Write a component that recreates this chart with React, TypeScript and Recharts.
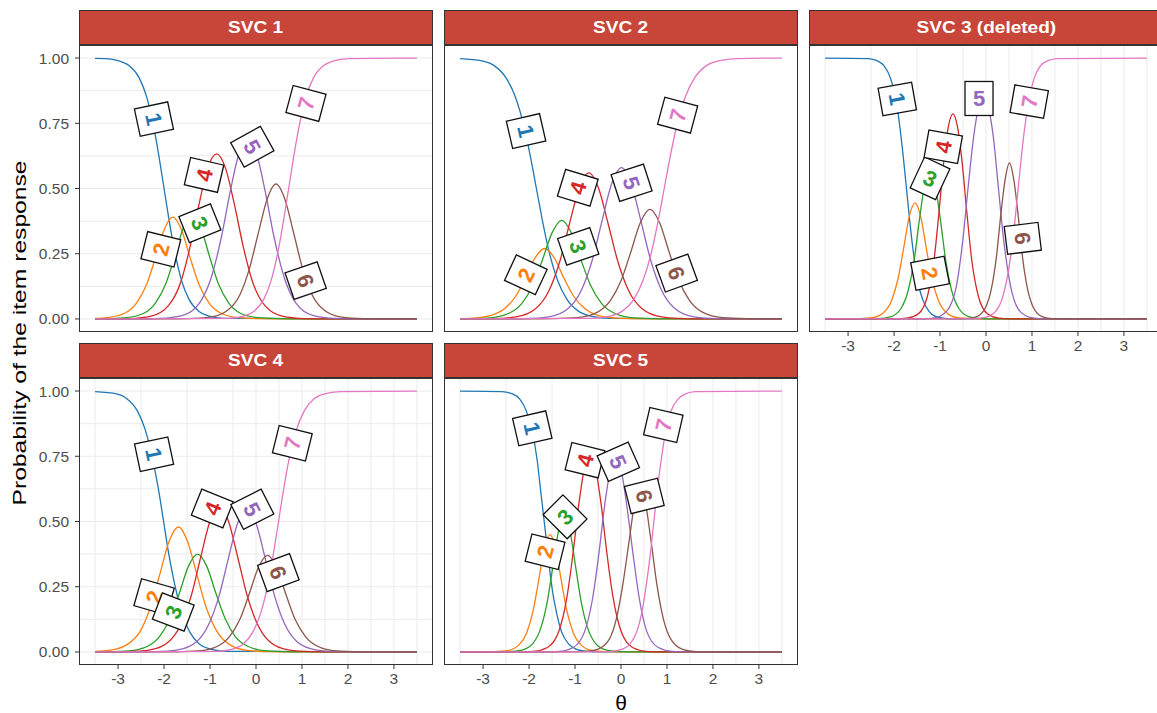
import React from "react";
import { LineChart, Line, XAxis, YAxis, CartesianGrid, ReferenceDot } from "recharts";

type Pt = [number, number];
type Lab = [number, number, number];

const categories = ["1", "2", "3", "4", "5", "6", "7"];
const panelTitles = ["SVC 1", "SVC 2", "SVC 3 (deleted)", "SVC 4", "SVC 5"];
const xTicks = [-3, -2, -1, 0, 1, 2, 3];
const yTicks = [0, 0.25, 0.5, 0.75, 1];
const xGrid = [-3.5, -3, -2.5, -2, -1.5, -1, -0.5, 0, 0.5, 1, 1.5, 2, 2.5, 3, 3.5];
const yGrid = [0, 0.125, 0.25, 0.375, 0.5, 0.625, 0.75, 0.875, 1];

const svc1: Pt[][] = [
  [[-3.5, 0.999], [-3.3, 0.998], [-2.98, 0.989], [-2.76, 0.971], [-2.54, 0.924], [-2.38, 0.852], [-2.22, 0.731], [-2.11, 0.622], [-2.0, 0.5], [-1.89, 0.378], [-1.78, 0.269], [-1.62, 0.148], [-1.46, 0.076], [-1.24, 0.029], [-1.02, 0.011], [-0.7, 0.0025], [3.5, 0]],
  [[-3.5, 0.002], [-3.24, 0.005], [-2.86, 0.022], [-2.6, 0.061], [-2.38, 0.132], [-2.19, 0.233], [-2.0, 0.341], [-1.81, 0.39], [-1.62, 0.341], [-1.43, 0.233], [-1.24, 0.132], [-1.02, 0.061], [-0.76, 0.022], [-0.38, 0.005], [0.1, 0.001], [0.57, 0], [3.5, 0]],
  [[-3.5, 0], [-3.3, 0.001], [-2.82, 0.005], [-2.44, 0.022], [-2.18, 0.063], [-1.96, 0.136], [-1.77, 0.239], [-1.58, 0.35], [-1.39, 0.4], [-1.2, 0.35], [-1.01, 0.239], [-0.82, 0.136], [-0.6, 0.063], [-0.34, 0.022], [0.04, 0.005], [0.52, 0.001], [0.99, 0], [3.5, 0]],
  [[-3.5, 0], [-3.24, 0], [-2.76, 0.0015], [-2.28, 0.011], [-1.9, 0.052], [-1.64, 0.14], [-1.43, 0.279], [-1.24, 0.439], [-1.05, 0.579], [-0.855, 0.633], [-0.665, 0.579], [-0.47, 0.439], [-0.28, 0.279], [-0.07, 0.14], [0.19, 0.052], [0.57, 0.011], [1.05, 0.0015], [1.53, 0], [3.5, 0]],
  [[-3.5, 0], [-2.56, 0], [-2.09, 0.002], [-1.61, 0.013], [-1.23, 0.061], [-0.97, 0.161], [-0.75, 0.316], [-0.56, 0.489], [-0.37, 0.634], [-0.18, 0.69], [0.01, 0.634], [0.2, 0.489], [0.39, 0.316], [0.61, 0.161], [0.87, 0.061], [1.25, 0.013], [1.73, 0.002], [2.2, 0], [3.5, 0]],
  [[-3.5, 0], [-1.95, 0], [-1.47, 0.001], [-0.99, 0.007], [-0.61, 0.034], [-0.35, 0.093], [-0.14, 0.195], [0.05, 0.329], [0.245, 0.461], [0.435, 0.518], [0.625, 0.461], [0.82, 0.329], [1.01, 0.195], [1.22, 0.093], [1.48, 0.034], [1.86, 0.007], [2.34, 0.001], [2.82, 0], [3.5, 0]],
  [[-3.5, 0], [-0.59, 0.0025], [-0.27, 0.011], [-0.05, 0.029], [0.17, 0.076], [0.33, 0.148], [0.49, 0.269], [0.6, 0.378], [0.71, 0.5], [0.82, 0.622], [0.93, 0.731], [1.09, 0.852], [1.25, 0.924], [1.47, 0.971], [1.69, 0.989], [2.01, 0.998], [3.5, 1]],
];

const svc2: Pt[][] = [
  [[-3.5, 0.998], [-3.02, 0.989], [-2.76, 0.971], [-2.5, 0.924], [-2.3, 0.852], [-2.1, 0.731], [-1.97, 0.622], [-1.84, 0.5], [-1.71, 0.378], [-1.58, 0.269], [-1.38, 0.148], [-1.18, 0.076], [-0.92, 0.029], [-0.66, 0.011], [-0.26, 0.0025], [3.5, 0]],
  [[-3.5, 0.001], [-3.24, 0.003], [-2.82, 0.014], [-2.53, 0.04], [-2.29, 0.087], [-2.08, 0.156], [-1.87, 0.234], [-1.66, 0.27], [-1.45, 0.234], [-1.24, 0.156], [-1.03, 0.087], [-0.79, 0.04], [-0.5, 0.014], [-0.08, 0.003], [0.45, 0], [3.5, 0]],
  [[-3.5, 0], [-3.4, 0.0005], [-2.87, 0.004], [-2.45, 0.021], [-2.16, 0.059], [-1.92, 0.128], [-1.71, 0.226], [-1.5, 0.33], [-1.29, 0.378], [-1.08, 0.33], [-0.87, 0.226], [-0.66, 0.128], [-0.42, 0.059], [-0.13, 0.021], [0.29, 0.004], [0.82, 0.0005], [1.34, 0], [3.5, 0]],
  [[-3.5, 0], [-3.33, 0], [-2.81, 0.001], [-2.28, 0.008], [-1.86, 0.039], [-1.57, 0.107], [-1.33, 0.221], [-1.12, 0.365], [-0.91, 0.502], [-0.7, 0.56], [-0.49, 0.502], [-0.28, 0.365], [-0.07, 0.221], [0.17, 0.107], [0.46, 0.039], [0.88, 0.008], [1.41, 0.001], [1.93, 0], [3.5, 0]],
  [[-3.5, 0], [-2.62, 0], [-2.1, 0.001], [-1.57, 0.008], [-1.15, 0.04], [-0.86, 0.111], [-0.62, 0.229], [-0.41, 0.378], [-0.2, 0.52], [0.01, 0.58], [0.22, 0.52], [0.43, 0.378], [0.64, 0.229], [0.88, 0.111], [1.17, 0.04], [1.59, 0.008], [2.12, 0.001], [2.64, 0], [3.5, 0]],
  [[-3.5, 0], [-2.0, 0], [-1.48, 0.001], [-0.95, 0.005], [-0.53, 0.024], [-0.24, 0.068], [0.0, 0.146], [0.21, 0.255], [0.42, 0.369], [0.63, 0.42], [0.84, 0.369], [1.05, 0.255], [1.26, 0.146], [1.5, 0.068], [1.79, 0.024], [2.21, 0.005], [2.74, 0.001], [3.26, 0], [3.5, 0]],
  [[-3.5, 0], [-0.64, 0.0025], [-0.24, 0.011], [0.02, 0.029], [0.28, 0.076], [0.48, 0.148], [0.68, 0.269], [0.81, 0.378], [0.94, 0.5], [1.07, 0.622], [1.2, 0.731], [1.4, 0.852], [1.6, 0.924], [1.86, 0.971], [2.12, 0.989], [2.52, 0.998], [3.5, 1]],
];

const svc3: Pt[][] = [
  [[-3.5, 1], [-2.56, 0.998], [-2.36, 0.989], [-2.22, 0.971], [-2.08, 0.924], [-1.97, 0.852], [-1.87, 0.731], [-1.8, 0.622], [-1.73, 0.5], [-1.66, 0.378], [-1.59, 0.269], [-1.49, 0.148], [-1.38, 0.076], [-1.24, 0.029], [-1.11, 0.011], [-0.9, 0.0025], [-0.62, 0], [3.5, 0]],
  [[-3.5, 0], [-3.08, 0], [-2.78, 0.001], [-2.47, 0.005], [-2.22, 0.026], [-2.05, 0.073], [-1.91, 0.157], [-1.79, 0.272], [-1.67, 0.392], [-1.545, 0.445], [-1.42, 0.392], [-1.3, 0.272], [-1.18, 0.157], [-1.04, 0.073], [-0.87, 0.026], [-0.62, 0.005], [-0.31, 0.001], [-0.01, 0], [3.5, 0]],
  [[-3.5, 0], [-2.65, 0], [-2.36, 0.001], [-2.08, 0.008], [-1.85, 0.04], [-1.69, 0.111], [-1.56, 0.229], [-1.45, 0.378], [-1.33, 0.52], [-1.22, 0.58], [-1.11, 0.52], [-0.99, 0.378], [-0.88, 0.229], [-0.75, 0.111], [-0.59, 0.04], [-0.36, 0.008], [-0.08, 0.001], [0.21, 0], [3.5, 0]],
  [[-3.5, 0], [-1.97, 0], [-1.72, 0.003], [-1.47, 0.02], [-1.27, 0.09], [-1.13, 0.226], [-1.02, 0.414], [-0.92, 0.601], [-0.82, 0.736], [-0.72, 0.786], [-0.62, 0.736], [-0.52, 0.601], [-0.42, 0.414], [-0.31, 0.226], [-0.17, 0.09], [0.03, 0.02], [0.28, 0.003], [0.53, 0], [3.5, 0]],
  [[-3.5, 0], [-1.39, 0], [-1.12, 0.004], [-0.86, 0.029], [-0.64, 0.13], [-0.5, 0.309], [-0.38, 0.52], [-0.27, 0.697], [-0.16, 0.812], [-0.057, 0.85], [0.05, 0.812], [0.16, 0.697], [0.26, 0.52], [0.38, 0.309], [0.53, 0.13], [0.74, 0.029], [1.01, 0.004], [1.28, 0], [3.5, 0]],
  [[-3.5, 0], [-0.67, 0], [-0.43, 0.001], [-0.2, 0.009], [-0.01, 0.044], [0.12, 0.118], [0.23, 0.243], [0.32, 0.396], [0.42, 0.539], [0.51, 0.598], [0.6, 0.539], [0.7, 0.396], [0.79, 0.243], [0.9, 0.118], [1.03, 0.044], [1.22, 0.009], [1.45, 0.001], [1.69, 0], [3.5, 0]],
  [[-3.5, 0], [-0.43, 0], [-0.15, 0.0025], [0.07, 0.011], [0.21, 0.029], [0.35, 0.076], [0.45, 0.148], [0.56, 0.269], [0.63, 0.378], [0.7, 0.5], [0.77, 0.622], [0.84, 0.731], [0.95, 0.852], [1.05, 0.924], [1.19, 0.971], [1.33, 0.989], [1.55, 0.998], [3.5, 1]],
];

const svc4: Pt[][] = [
  [[-3.5, 0.998], [-3.03, 0.989], [-2.81, 0.971], [-2.58, 0.924], [-2.41, 0.852], [-2.24, 0.731], [-2.12, 0.622], [-2.01, 0.5], [-1.9, 0.378], [-1.78, 0.269], [-1.61, 0.148], [-1.44, 0.076], [-1.22, 0.029], [-0.99, 0.011], [-0.65, 0.0025], [3.5, 0]],
  [[-3.5, 0.002], [-3.19, 0.006], [-2.79, 0.03], [-2.51, 0.082], [-2.29, 0.174], [-2.09, 0.299], [-1.89, 0.424], [-1.685, 0.479], [-1.49, 0.424], [-1.29, 0.299], [-1.09, 0.174], [-0.86, 0.082], [-0.59, 0.03], [-0.19, 0.006], [0.32, 0.001], [0.82, 0], [3.5, 0]],
  [[-3.5, 0], [-3.27, 0.0005], [-2.77, 0.004], [-2.37, 0.021], [-2.1, 0.059], [-1.87, 0.127], [-1.67, 0.224], [-1.47, 0.328], [-1.27, 0.375], [-1.07, 0.328], [-0.87, 0.224], [-0.67, 0.127], [-0.45, 0.059], [-0.17, 0.021], [0.23, 0.004], [0.73, 0.0005], [1.23, 0], [3.5, 0]],
  [[-3.5, 0], [-3.3, 0], [-2.8, 0.001], [-2.3, 0.008], [-1.9, 0.039], [-1.63, 0.107], [-1.4, 0.221], [-1.2, 0.365], [-1.0, 0.502], [-0.8, 0.56], [-0.6, 0.502], [-0.4, 0.365], [-0.2, 0.221], [0.03, 0.107], [0.3, 0.039], [0.7, 0.008], [1.2, 0.001], [1.7, 0], [3.5, 0]],
  [[-3.5, 0], [-2.7, 0], [-2.2, 0.001], [-1.7, 0.008], [-1.3, 0.038], [-1.03, 0.105], [-0.8, 0.217], [-0.6, 0.359], [-0.4, 0.493], [-0.2, 0.55], [0.0, 0.493], [0.2, 0.359], [0.4, 0.217], [0.63, 0.105], [0.9, 0.038], [1.3, 0.008], [1.8, 0.001], [2.3, 0], [3.5, 0]],
  [[-3.5, 0], [-2.25, 0], [-1.75, 0.0005], [-1.25, 0.004], [-0.85, 0.021], [-0.58, 0.058], [-0.35, 0.125], [-0.15, 0.221], [0.05, 0.323], [0.25, 0.37], [0.45, 0.323], [0.65, 0.221], [0.85, 0.125], [1.08, 0.058], [1.35, 0.021], [1.75, 0.004], [2.25, 0.0005], [2.75, 0], [3.5, 0]],
  [[-3.5, 0], [-0.84, 0.0025], [-0.51, 0.011], [-0.29, 0.029], [-0.07, 0.076], [0.1, 0.148], [0.27, 0.269], [0.38, 0.378], [0.49, 0.5], [0.6, 0.622], [0.71, 0.731], [0.88, 0.852], [1.05, 0.924], [1.27, 0.971], [1.49, 0.989], [1.82, 0.998], [3.5, 1]],
];

const svc5: Pt[][] = [
  [[-3.5, 1], [-2.59, 0.998], [-2.36, 0.989], [-2.21, 0.971], [-2.06, 0.924], [-1.94, 0.852], [-1.82, 0.731], [-1.75, 0.622], [-1.67, 0.5], [-1.59, 0.378], [-1.52, 0.269], [-1.4, 0.148], [-1.29, 0.076], [-1.13, 0.029], [-0.98, 0.011], [-0.75, 0.0025], [-0.44, 0], [3.5, 0]],
  [[-3.5, 0], [-3.08, 0], [-2.78, 0.001], [-2.47, 0.005], [-2.22, 0.027], [-2.05, 0.074], [-1.91, 0.159], [-1.79, 0.275], [-1.67, 0.396], [-1.545, 0.45], [-1.42, 0.396], [-1.3, 0.275], [-1.18, 0.159], [-1.04, 0.074], [-0.87, 0.027], [-0.62, 0.005], [-0.31, 0.001], [-0.01, 0], [3.5, 0]],
  [[-3.5, 0], [-2.77, 0], [-2.47, 0.001], [-2.16, 0.007], [-1.91, 0.034], [-1.74, 0.094], [-1.6, 0.196], [-1.48, 0.33], [-1.36, 0.463], [-1.235, 0.52], [-1.11, 0.463], [-0.99, 0.33], [-0.87, 0.196], [-0.73, 0.094], [-0.56, 0.034], [-0.31, 0.007], [0.0, 0.001], [0.3, 0], [3.5, 0]],
  [[-3.5, 0], [-2.21, 0], [-1.91, 0.002], [-1.6, 0.017], [-1.35, 0.08], [-1.18, 0.206], [-1.04, 0.383], [-0.92, 0.563], [-0.8, 0.7], [-0.675, 0.75], [-0.55, 0.7], [-0.43, 0.563], [-0.31, 0.383], [-0.17, 0.206], [0.0, 0.08], [0.25, 0.017], [0.56, 0.002], [0.86, 0], [3.5, 0]],
  [[-3.5, 0], [-1.65, 0], [-1.34, 0.002], [-1.04, 0.017], [-0.79, 0.079], [-0.62, 0.203], [-0.48, 0.378], [-0.36, 0.556], [-0.24, 0.69], [-0.113, 0.74], [0.01, 0.69], [0.13, 0.556], [0.26, 0.378], [0.4, 0.203], [0.56, 0.079], [0.81, 0.017], [1.12, 0.002], [1.43, 0], [3.5, 0]],
  [[-3.5, 0], [-1.13, 0], [-0.82, 0.001], [-0.51, 0.01], [-0.26, 0.047], [-0.1, 0.128], [0.04, 0.259], [0.17, 0.417], [0.29, 0.561], [0.413, 0.62], [0.54, 0.561], [0.66, 0.417], [0.78, 0.259], [0.92, 0.128], [1.09, 0.047], [1.34, 0.01], [1.64, 0.001], [1.95, 0], [3.5, 0]],
  [[-3.5, 0], [-0.5, 0], [-0.19, 0.0025], [0.03, 0.011], [0.19, 0.029], [0.34, 0.076], [0.45, 0.148], [0.56, 0.269], [0.64, 0.378], [0.715, 0.5], [0.79, 0.622], [0.87, 0.731], [0.98, 0.852], [1.09, 0.924], [1.25, 0.971], [1.4, 0.989], [1.62, 0.998], [3.5, 1]],
];

// direct labels: theta, probability, text angle (follows the curve slope)
const svc1Labels: Lab[] = [[-2.22, 0.766, 78], [-2.07, 0.267, -76], [-1.22, 0.367, 68], [-1.13, 0.552, -77], [-0.08, 0.66, 61], [1.08, 0.147, 71], [1.087, 0.826, -75]];
const svc2Labels: Lab[] = [[-2.065, 0.72, 77], [-2.07, 0.169, -65], [-0.93, 0.278, 71], [-0.94, 0.503, -73], [0.23, 0.522, 72], [1.21, 0.176, 70], [1.232, 0.781, -75]];
const svc3Labels: Lab[] = [[-1.93, 0.843, 80], [-1.217, 0.175, 79], [-1.217, 0.539, 25], [-0.93, 0.66, -80], [-0.152, 0.845, 0], [0.8, 0.309, 83], [0.94, 0.833, -80]];
const svc4Labels: Lab[] = [[-2.217, 0.758, 78], [-2.217, 0.211, -74], [-1.8, 0.153, -69], [-0.95, 0.55, -68], [-0.08, 0.547, 63], [0.486, 0.304, 70], [0.79, 0.8, -76]];
const svc5Labels: Lab[] = [[-1.93, 0.857, 77], [-1.652, 0.384, -76], [-1.217, 0.518, -45], [-0.783, 0.735, -76], [-0.058, 0.729, 66], [0.507, 0.598, 76], [0.92, 0.87, -77]];

const colors = ["#1F77B4", "#FF7F0E", "#2CA02C", "#D62728", "#9467BD", "#8C564B", "#E377C2"];
const FONT = "'Liberation Sans', Arial, Helvetica, sans-serif";

const PLOT_W = 354;
const PLOT_H = 287;
const AXIS_W = 80;
const AXIS_H = 40;
const STRIP_H = 35;

function BoxLabel(props: any) {
  const { cx, cy, text, color, angle } = props;
  if (cx == null || cy == null) return null;
  return (
    <g transform={`translate(${cx},${cy}) rotate(${angle})`}>
      <rect x={-14} y={-17} width={28} height={34} fill="#fff" stroke="#111" strokeWidth={1.3} />
      <text x={0} y={0} dy="0.36em" textAnchor="middle" fontSize={22} fontWeight="bold" fill={color} fontFamily={FONT}>
        {text}
      </text>
    </g>
  );
}

function Panel(props: { title: string; curves: Pt[][]; labels: Lab[]; left: number; top: number; showY: boolean; showX: boolean }) {
  const { title, curves, labels, left, top, showY, showX } = props;
  return (
    <>
      <div
        style={{
          position: "absolute",
          left,
          top: top - STRIP_H,
          width: PLOT_W,
          height: STRIP_H,
          boxSizing: "border-box",
          background: "#C8453A",
          border: "1px solid #333",
          color: "#fff",
          fontFamily: FONT,
          fontWeight: "bold",
          fontSize: 17,
          display: "flex",
          alignItems: "center",
          justifyContent: "center",
        }}
      >
        <span style={{ display: "inline-block", transform: "scaleX(1.12)" }}>{title}</span>
      </div>
      <div style={{ position: "absolute", left: left - AXIS_W, top }}>
        <LineChart width={AXIS_W + PLOT_W + 10} height={PLOT_H + AXIS_H} margin={{ top: 0, right: 10, bottom: 0, left: 0 }}>
          <CartesianGrid stroke="#EBEBEB" strokeWidth={1} verticalValues={xGrid} horizontalValues={yGrid} />
          <XAxis
            type="number"
            dataKey="x"
            domain={[-3.85, 3.85]}
            ticks={xTicks}
            allowDataOverflow
            height={AXIS_H}
            axisLine={false}
            tickSize={4}
            tickMargin={4}
            tickLine={showX ? { stroke: "#333" } : false}
            tick={showX ? { fill: "#4D4D4D", fontSize: 15.5, fontFamily: FONT } : false}
          />
          <YAxis
            type="number"
            domain={[-0.05, 1.05]}
            ticks={yTicks}
            allowDataOverflow
            width={AXIS_W}
            axisLine={false}
            tickSize={4}
            tickMargin={6}
            tickFormatter={(v: number) => v.toFixed(2)}
            tickLine={showY ? { stroke: "#333" } : false}
            tick={showY ? { fill: "#4D4D4D", fontSize: 15.5, fontFamily: FONT } : false}
          />
          {curves.map((pts, i) => (
            <Line
              key={categories[i]}
              data={pts.map(([x, p]) => ({ x, p }))}
              dataKey="p"
              type="monotone"
              stroke={colors[i]}
              strokeWidth={1.3}
              dot={false}
              isAnimationActive={false}
            />
          ))}
          {labels.map(([lx, ly, ang], i) => (
            <ReferenceDot
              key={"l" + i}
              x={lx}
              y={ly}
              r={2}
              ifOverflow="visible"
              shape={(sp: any) => <BoxLabel cx={sp.cx} cy={sp.cy} text={categories[i]} color={colors[i]} angle={ang} />}
            />
          ))}
        </LineChart>
      </div>
      <div
        style={{
          position: "absolute",
          left,
          top,
          width: PLOT_W,
          height: PLOT_H,
          boxSizing: "border-box",
          border: "1px solid #333",
          pointerEvents: "none",
        }}
      />
    </>
  );
}

export default function App() {
  const colLeft = [79, 444, 809];
  const rowTop = [45, 378];
  return (
    <div style={{ position: "absolute", left: 0, top: 0, width: 1157, height: 713, overflow: "hidden", background: "#fff" }}>
      <Panel title={panelTitles[0]} curves={svc1} labels={svc1Labels} left={colLeft[0]} top={rowTop[0]} showY showX={false} />
      <Panel title={panelTitles[1]} curves={svc2} labels={svc2Labels} left={colLeft[1]} top={rowTop[0]} showY={false} showX={false} />
      <Panel title={panelTitles[2]} curves={svc3} labels={svc3Labels} left={colLeft[2]} top={rowTop[0]} showY={false} showX />
      <Panel title={panelTitles[3]} curves={svc4} labels={svc4Labels} left={colLeft[0]} top={rowTop[1]} showY showX />
      <Panel title={panelTitles[4]} curves={svc5} labels={svc5Labels} left={colLeft[1]} top={rowTop[1]} showY={false} showX />
      <svg width={1157} height={713} style={{ position: "absolute", left: 0, top: 0, pointerEvents: "none" }}>
        <text x={621} y={710} textAnchor="middle" fontSize={21} fill="#000" fontFamily={FONT}>
          θ
        </text>
        <text
          transform="translate(26,333) rotate(-90)"
          textAnchor="middle"
          fontSize={19}
          fill="#000"
          fontFamily={FONT}
          textLength={345}
          lengthAdjust="spacingAndGlyphs"
        >
          Probability of the item response
        </text>
      </svg>
    </div>
  );
}
